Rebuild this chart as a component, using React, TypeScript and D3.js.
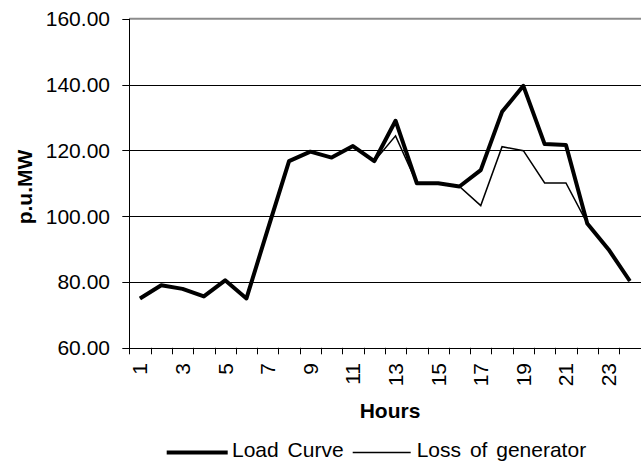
import React from "react";
import * as d3 from "d3";

const hours: number[] = Array.from({ length: 24 }, (_, i) => i + 1);
const loadCurve: number[] = [75.0, 79.0, 77.9, 75.6, 80.5, 75.0, 96.0, 116.7, 119.6, 117.8, 121.3, 116.7, 129.0, 110.0, 110.0, 109.0, 114.0, 131.7, 139.6, 121.9, 121.6, 97.8, 89.9, 80.3];
const lossOfGenerator: number[] = [75.0, 79.0, 77.9, 75.6, 80.5, 75.0, 96.0, 116.7, 119.6, 117.8, 121.3, 116.7, 124.4, 110.0, 110.0, 109.0, 103.2, 121.1, 119.9, 110.1, 110.1, 97.8, 89.9, 80.3];
const yTicks: number[] = [60, 80, 100, 120, 140, 160];
const xTickLabels: string[] = ["1", "3", "5", "7", "9", "11", "13", "15", "17", "19", "21", "23"];
const seriesNames: string[] = ["Load Curve", "Loss of generator"];

const W = 641;
const H = 466;
const left = 129.3;
const right = 641;
const top = 18.7;
const bottom = 347.8;
const FONT = "'Liberation Sans', Arial, sans-serif";

export default function App() {
  const x = d3.scaleBand<number>().domain(hours).range([left, left + 24 * 21.3]).padding(0);
  const y = d3.scaleLinear().domain([60, 160]).range([bottom, top]);
  const cx = (h: number) => (x(h) as number) + x.bandwidth() / 2;
  const line = d3
    .line<number>()
    .x((_, i) => cx(hours[i]))
    .y((d) => y(d));

  const boundaries = d3.range(0, 25).map((i) => left + i * x.bandwidth());

  return (
    <svg
      width={W}
      height={H}
      style={{ position: "absolute", left: 0, top: 0, background: "#fff" }}
      fontFamily={FONT}
    >
      <rect x={0} y={0} width={W} height={H} fill="#fff" />
      {/* gridlines */}
      {yTicks.slice(1).map((t) => (
        <line
          key={t}
          x1={left}
          x2={right}
          y1={t === 160 ? y(t) : Math.round(y(t)) + 0.5}
          y2={t === 160 ? y(t) : Math.round(y(t)) + 0.5}
          stroke={t === 160 ? "#8c8c8c" : "#000"}
          strokeWidth={t === 160 ? 2 : 1}
        />
      ))}
      {/* y axis */}
      <line x1={Math.round(left) + 0.5} x2={Math.round(left) + 0.5} y1={top} y2={bottom + 0.5} stroke="#000" strokeWidth={1} />
      {yTicks.map((t) => (
        <g key={t}>
          <line x1={left - 7} x2={left} y1={Math.round(y(t)) + 0.5} y2={Math.round(y(t)) + 0.5} stroke="#000" />
          <text x={110} y={y(t) + 7.5} textAnchor="end" fontSize={21} fill="#000">
            {t.toFixed(2)}
          </text>
        </g>
      ))}
      {/* x axis */}
      <line x1={left} x2={right} y1={Math.round(bottom) + 0.5} y2={Math.round(bottom) + 0.5} stroke="#000" />
      {boundaries.map((b, i) => (
        <line key={i} x1={Math.round(b) + 0.5} x2={Math.round(b) + 0.5} y1={bottom} y2={bottom + 6.5} stroke="#000" />
      ))}
      {xTickLabels.map((lab) => {
        const h = +lab;
        return (
          <text
            key={lab}
            transform={`translate(${cx(h)},363) rotate(-90)`}
            textAnchor="end"
            dy="0.35em"
            fontSize={21}
            fill="#000"
          >
            {lab}
          </text>
        );
      })}
      {/* axis titles */}
      <text x={390} y={418} textAnchor="middle" fontSize={21} fontWeight="bold" fill="#000">
        Hours
      </text>
      <text transform="translate(32,187) rotate(-90)" textAnchor="middle" fontSize={21} fontWeight="bold" fill="#000">
        p.u.MW
      </text>
      {/* series */}
      <path d={line(lossOfGenerator) || ""} fill="none" stroke="#000" strokeWidth={1.5} strokeLinejoin="miter" />
      <path d={line(loadCurve) || ""} fill="none" stroke="#000" strokeWidth={4} strokeLinejoin="round" />
      {/* legend */}
      <line x1={166.7} x2={227.7} y1={452.5} y2={452.5} stroke="#000" strokeWidth={4} />
      <text x={232} y={457} fontSize={21} fill="#000" wordSpacing={3}>
        {seriesNames[0]}
      </text>
      <line x1={352.7} x2={410.7} y1={452.5} y2={452.5} stroke="#000" strokeWidth={1.5} />
      <text x={416.7} y={457} fontSize={21} fill="#000" wordSpacing={3}>
        {seriesNames[1]}
      </text>
    </svg>
  );
}
